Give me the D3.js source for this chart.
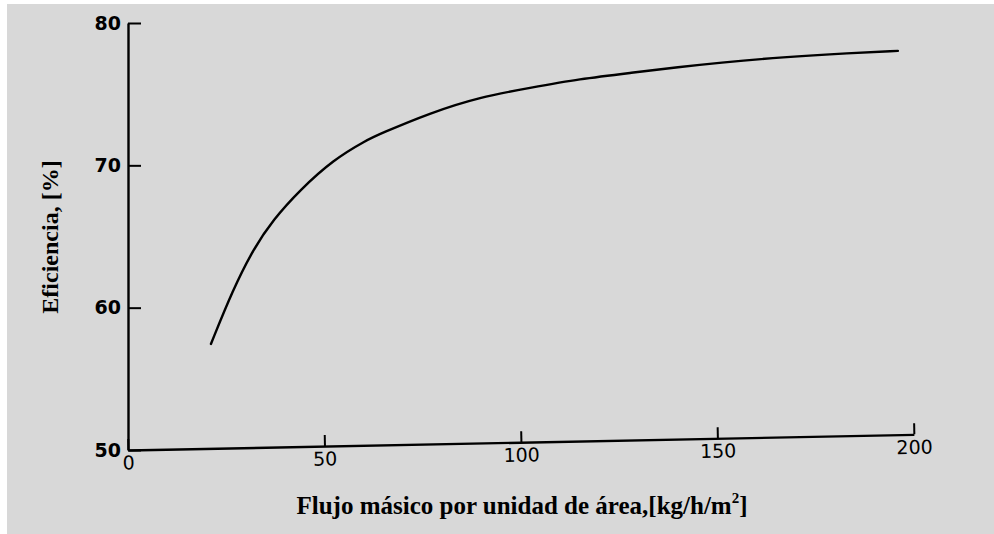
<!DOCTYPE html>
<html>
<head>
<meta charset="utf-8">
<script src="https://cdn.jsdelivr.net/npm/d3@7"></script>
<style>
  html, body { margin: 0; padding: 0; background: #ffffff; }
  svg { display: block; }
</style>
</head>
<body>
<script>
// ---- Data ----
const flowValues = [21.1, 26.7, 31.8, 36.9, 43.8, 52.2, 60.8, 64.1, 76.8, 89.6, 102.3, 115.0, 127.7, 140.5, 149.9, 166.7, 183.7, 195.9];
const efficiencyValues = [57.45, 61.26, 64.07, 66.18, 68.28, 70.39, 71.79, 72.21, 73.68, 74.81, 75.44, 76.07, 76.49, 76.91, 77.19, 77.61, 77.89, 78.04];
const xTickValues = [0, 50, 100, 150, 200];
const yTickValues = [50, 60, 70, 80];
const xTitle = "Flujo másico por unidad de área,[kg/h/m";
const xTitleSup = "2";
const xTitleEnd = "]";
const yTitle = "Eficiencia, [%]";

const W = 994, H = 534;
const svg = d3.select("body").append("svg").attr("width", W).attr("height", H);

// scanned-page background
svg.append("rect").attr("x", 7).attr("y", 4).attr("width", W - 7).attr("height", H - 4).attr("fill", "#d8d8d8");

const x = d3.scaleLinear().domain([0, 200]).range([128, 914]);
const y = d3.scaleLinear().domain([50, 80]).range([450, 23]);

const tickFont = "'DejaVu Sans', 'Century Gothic', sans-serif";
const serif = "'Liberation Serif', 'Times New Roman', serif";

// Y axis
const yAxis = d3.axisLeft(y).tickValues(yTickValues).tickSize(-13).tickSizeOuter(0).tickPadding(7).tickFormat(d3.format("d"));
const gy = svg.append("g").attr("transform", `translate(${x(0)},0)`).call(yAxis);
gy.select(".domain").attr("stroke", "#000").attr("stroke-width", 2.4);
gy.selectAll(".tick line").attr("stroke", "#000").attr("stroke-width", 2);
gy.selectAll(".tick text").attr("font-family", tickFont).attr("font-weight", "bold").attr("font-size", 19).attr("fill", "#000");

// X axis (slightly tilted, as in the scan)
const xAxis = d3.axisBottom(x).tickValues(xTickValues).tickSize(-11).tickSizeOuter(0).tickPadding(6).tickFormat(d3.format("d"));
const gx = svg.append("g")
  .attr("transform", `translate(0,${y(50)}) rotate(-1.14, ${x(0)}, 0)`)
  .call(xAxis);
gx.select(".domain").attr("stroke", "#000").attr("stroke-width", 2.4);
gx.selectAll(".tick line").attr("stroke", "#000").attr("stroke-width", 2);
gx.selectAll(".tick text").attr("font-family", tickFont).attr("font-size", 19).attr("fill", "#000");

// Curve
const pts = flowValues.map((v, i) => [v, efficiencyValues[i]]);
const line = d3.line().x(d => x(d[0])).y(d => y(d[1])).curve(d3.curveBasis);
svg.append("path").datum(pts).attr("d", line)
  .attr("fill", "none").attr("stroke", "#000").attr("stroke-width", 2.4).attr("stroke-linecap", "round");

// Axis titles
svg.append("text")
  .attr("transform", "translate(58,237) rotate(-90)")
  .attr("text-anchor", "middle")
  .attr("font-family", serif).attr("font-weight", "bold").attr("font-size", 24)
  .attr("fill", "#000")
  .text(yTitle);

const xt = svg.append("text")
  .attr("x", 522).attr("y", 514)
  .attr("text-anchor", "middle")
  .attr("font-family", serif).attr("font-weight", "bold").attr("font-size", 25)
  .attr("fill", "#000");
xt.append("tspan").text(xTitle);
xt.append("tspan").attr("dy", -11).attr("font-size", 15).text(xTitleSup);
xt.append("tspan").attr("dy", 11).text(xTitleEnd);
</script>
</body>
</html>
